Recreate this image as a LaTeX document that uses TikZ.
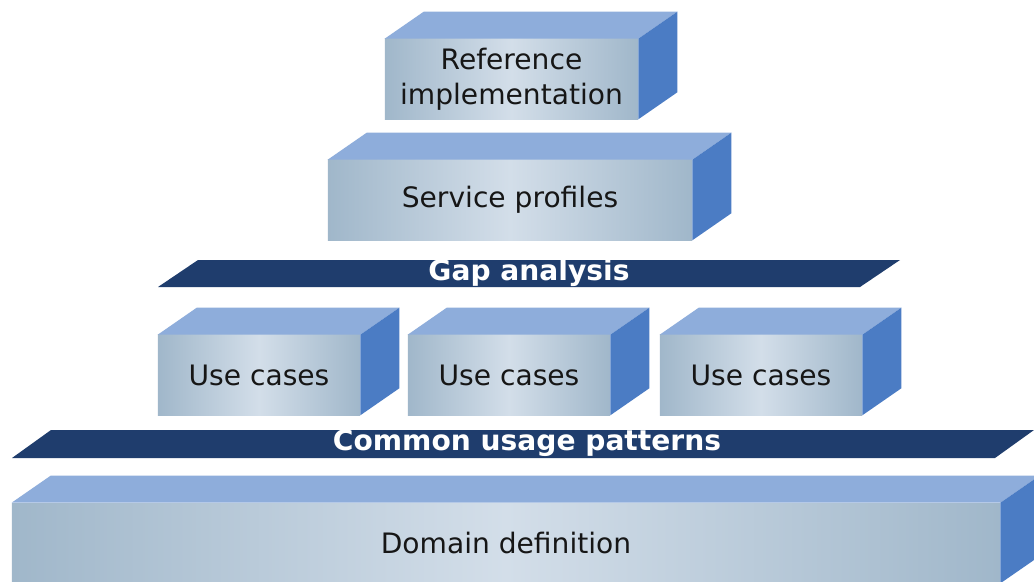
\documentclass[tikz,border=0pt]{standalone}
\usepackage{fontspec}
\setmainfont{DejaVu Sans}
\usetikzlibrary{calc}
\usetikzlibrary{positioning}
\definecolor{frontedge}{HTML}{A0B7CA}
\definecolor{frontmid}{HTML}{D3DEE9}
\definecolor{topblue}{HTML}{8EADDB}
\definecolor{sideblue}{HTML}{4B7CC4}
\definecolor{bandblue}{HTML}{1F3D6D}
\definecolor{boxtext}{HTML}{161616}
\tikzstyle{front} = [shade, left color=frontedge, right color=frontedge, middle color=frontmid, minimum height=2cm, inner sep=0, align=center, text=boxtext, font=\fontsize{20}{25}\selectfont]
\tikzstyle{topface} = [fill=topblue]
\tikzstyle{sideface} = [fill=sideblue]
\tikzstyle{band} = [fill=bandblue]
\tikzstyle{bandlabel} = [text=white, font=\fontsize{20}{24}\selectfont\bfseries, inner sep=0]

\begin{document}
\begin{tikzpicture}[x=0.025cm, y=-0.025cm]
\clip (0,0) rectangle (1034,581);
\fill[white] (0,0) rectangle (1034,581);

\node[front, minimum width=6.325cm] (refimpl) at (511.5,79) {Reference\\implementation};
\node[front, minimum width=9.1cm] (services) at (510,200) {Service profiles};
\node[front, minimum width=5.05cm] (uc1) at (259,375) {Use cases};
\node[front, minimum width=5.05cm] (uc2) at (509,375) {Use cases};
\node[front, minimum width=5.05cm] (uc3) at (761,375) {Use cases};
\node[front, minimum width=24.7cm] (domain) at (506,543) {Domain definition};

% top and side of each block
\foreach \b in {refimpl,services,uc1,uc2,uc3,domain} {
    \fill[topface] (\b.north west) -- ($(\b.north west)+(39,-27)$) -- ($(\b.north east)+(39,-27)$) -- (\b.north east) -- cycle;
    \fill[sideface] (\b.north east) -- ($(\b.north east)+(39,-27)$) -- ($(\b.south east)+(39,-27)$) -- (\b.south east) -- cycle;
}

% flat bands
\fill[band] (158,287) -- (198,260) -- (900,260) -- (860,287) -- cycle;
\node[bandlabel] (gap) at (529,273) {Gap analysis};
\fill[band] (12,458) -- (51,430) -- (1034,430) -- (995,458) -- cycle;
\node[bandlabel] (common) at (527,443) {Common usage patterns};
\end{tikzpicture}
\end{document}
